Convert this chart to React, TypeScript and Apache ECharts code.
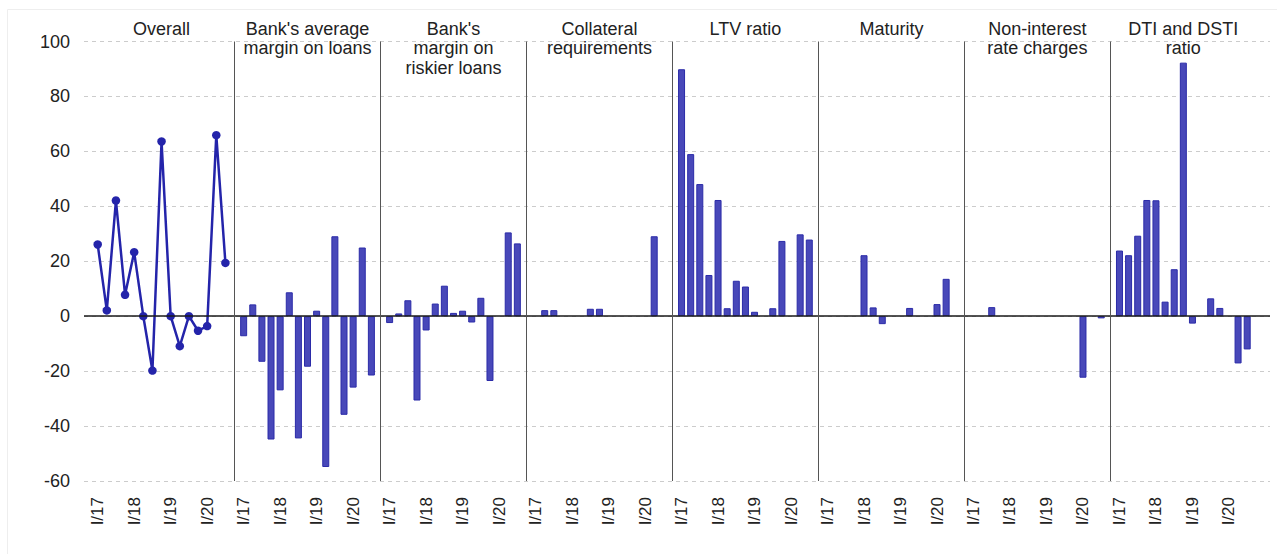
import React, { useEffect, useRef } from "react";
import * as echarts from "echarts";

const panelTitles = [
  "Overall",
  "Bank's average\nmargin on loans",
  "Bank's\nmargin on\nriskier loans",
  "Collateral\nrequirements",
  "LTV ratio",
  "Maturity",
  "Non-interest\nrate charges",
  "DTI and DSTI\nratio",
];

const quarters = [
  "I/17", "II/17", "III/17", "IV/17",
  "I/18", "II/18", "III/18", "IV/18",
  "I/19", "II/19", "III/19", "IV/19",
  "I/20", "II/20", "III/20",
];

const overall = [26.1, 2.1, 42.1, 7.8, 23.3, 0, -19.8, 63.6, 0, -10.9, 0, -5.3, -3.6, 65.9, 19.4];
const avgMargin = [-7.3, 4.3, -16.6, -44.9, -27.0, 8.7, -44.5, -18.4, 2.0, -54.9, 29.1, -35.9, -26.0, 25.0, -21.6];
const riskierMargin = [-2.5, 1.0, 5.8, -30.7, -5.2, 4.6, 11.1, 1.2, 2.0, -2.3, 6.7, -23.6, 0, 30.5, 26.5];
const collateral = [0, 2.2, 2.2, 0, 0, 0, 2.7, 2.7, 0, 0, 0, 0, 0, 29.1, 0];
const ltv = [89.9, 59.0, 48.1, 15.0, 42.3, 2.9, 12.9, 10.8, 1.6, 0, 2.9, 27.4, 0, 29.8, 27.9];
const maturity = [0, 0, 0, 0, 22.2, 3.2, -2.9, 0, 0, 3.0, 0, 0, 4.4, 13.6, 0];
const nonInterest = [0, 0, 3.3, 0, 0, 0, 0, 0, 0, 0, 0, 0, -22.4, 0, -0.8];
const dti = [23.9, 22.2, 29.3, 42.3, 42.2, 5.3, 17.1, 92.3, -2.7, 0, 6.5, 3.0, 0, -17.2, -12.1];

const barPanels = [avgMargin, riskierMargin, collateral, ltv, maturity, nonInterest, dti];

const yMin = -60;
const yMax = 100;
const yStep = 20;

const GROUP = quarters.length + 1; // one gap slot + quarters
const NGROUPS = panelTitles.length;
const TRAILING = 2;

const FONT = "'Liberation Sans', Arial, sans-serif";

export default function App() {
  const ref = useRef<HTMLDivElement>(null);

  useEffect(() => {
    if (!ref.current) return;
    const chart = echarts.init(ref.current, undefined, { renderer: "svg" });

    const total = GROUP * NGROUPS + TRAILING;
    const categories: string[] = [];
    for (let g = 0; g < NGROUPS; g++) {
      categories.push("");
      quarters.forEach((q) => categories.push(q));
    }
    for (let t = 0; t < TRAILING; t++) categories.push("");

    const lineData: (number | null)[] = new Array(total).fill(null);
    overall.forEach((v, i) => (lineData[1 + i] = v));

    const barData: (number | null)[] = new Array(total).fill(null);
    barPanels.forEach((arr, p) => {
      const g = p + 1;
      arr.forEach((v, i) => (barData[g * GROUP + 1 + i] = v === 0 ? null : v));
    });

    const separators = [];
    for (let g = 1; g < NGROUPS; g++) {
      separators.push({
        xAxis: g * GROUP,
        lineStyle: { color: "#555", width: 1, type: "solid" },
      });
    }

    chart.setOption({
      animation: false,
      backgroundColor: "#fff",
      textStyle: { fontFamily: FONT },
      grid: { left: 84, right: 7, top: 41.5, bottom: 73, containLabel: false },
      xAxis: {
        type: "category",
        data: categories,
        boundaryGap: true,
        axisLine: { show: false },
        axisTick: { show: false },
        splitLine: { show: false },
        axisLabel: {
          interval: (index: number, value: string) => value.startsWith("I/"),
          rotate: 90,
          fontSize: 17,
          color: "#222",
          margin: 16,
          fontFamily: FONT,
        },
      },
      yAxis: {
        type: "value",
        min: yMin,
        max: yMax,
        interval: yStep,
        axisLine: { show: false },
        axisTick: { show: false },
        axisLabel: { fontSize: 18, color: "#222", margin: 14, fontFamily: FONT },
        splitLine: { show: true, lineStyle: { color: "#cccccc", width: 1, type: [4, 4] } },
      },
      series: [
        {
          type: "bar",
          data: barData,
          barWidth: 7,
          itemStyle: { color: "#4848b9", borderColor: "#2b2ba8", borderWidth: 1 },
          markLine: {
            silent: true,
            symbol: ["none", "none"],
            label: { show: false },
            data: [
              { yAxis: 0, lineStyle: { color: "#1a1a1a", width: 1.5, type: "solid" } },
              ...separators,
            ],
          },
          z: 2,
        },
        {
          type: "line",
          data: lineData,
          connectNulls: false,
          showAllSymbol: true,
          symbol: "circle",
          symbolSize: 8.5,
          lineStyle: { color: "#2424aa", width: 2.5 },
          itemStyle: { color: "#2424aa" },
          z: 3,
        },
      ],
    });

    const graphics: any[] = [
      {
        type: "rect",
        shape: { x: 7.5, y: 9.5, width: 1300, height: 600 },
        style: { fill: "none", stroke: "#eeeeee", lineWidth: 1 },
        silent: true,
        z: -10,
      },
    ];
    panelTitles.forEach((t, g) => {
      const cx = chart.convertToPixel({ xAxisIndex: 0 }, g * GROUP + 8) as number;
      graphics.push({
        type: "text",
        x: cx,
        y: 19,
        silent: true,
        style: {
          text: t,
          fontSize: 18,
          lineHeight: 19.5,
          fontFamily: FONT,
          fill: "#222",
          align: "center",
          verticalAlign: "top",
        },
        z: 10,
      });
    });
    chart.setOption({ graphic: graphics });

    return () => chart.dispose();
  }, []);

  return (
    <div
      ref={ref}
      style={{ position: "fixed", left: 0, top: 0, width: 1277, height: 554, background: "#fff" }}
    />
  );
}
